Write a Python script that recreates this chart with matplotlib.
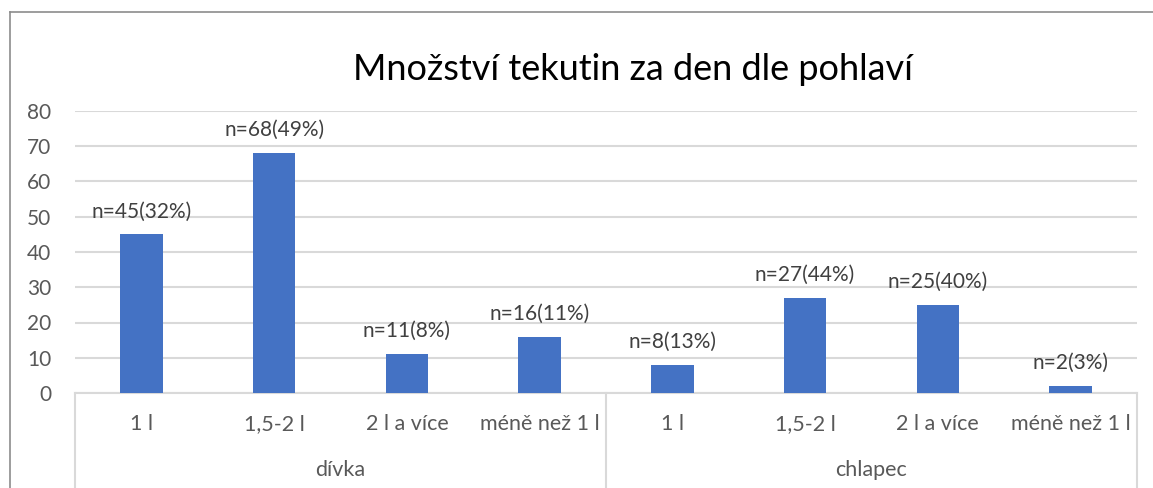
#!/usr/bin/env python3
"""Množství tekutin za den dle pohlaví - grouped category bar chart."""

import matplotlib

matplotlib.use("Agg")
import matplotlib.pyplot as plt
from matplotlib.lines import Line2D
from matplotlib.transforms import blended_transform_factory

GROUPS = ["dívka", "chlapec"]
CATEGORIES = ["1 l", "1,5-2 l", "2 l a více", "méně než 1 l"]
COUNTS_GIRLS = [45, 68, 11, 16]
COUNTS_BOYS = [8, 27, 25, 2]
PERCENT_GIRLS = [32, 49, 8, 11]
PERCENT_BOYS = [13, 44, 40, 3]
Y_TICKS = [0, 10, 20, 30, 40, 50, 60, 70, 80]

BAR_COLOR = "#4472C4"
GRID_COLOR = "#D9D9D9"
TEXT_COLOR = "#595959"
FONT = ["Lato", "DejaVu Sans"]

plt.rcParams["font.family"] = FONT

W, H = 1153, 488
fig = plt.figure(figsize=(W / 100, H / 100), dpi=100)

left, right, top, bottom = 75, 1137, 111, 393
ax = fig.add_axes([left / W, 1 - bottom / H, (right - left) / W, (bottom - top) / H])

values = COUNTS_GIRLS + COUNTS_BOYS
percents = PERCENT_GIRLS + PERCENT_BOYS
labels = CATEGORIES * len(GROUPS)
x = list(range(len(values)))

bars = ax.bar(x, values, width=0.32, color=BAR_COLOR, zorder=3)
for xi, v, p in zip(x, values, percents):
    ax.annotate(
        f"n={v}({p}%)",
        (xi, v),
        xytext=(0, 23),
        textcoords="offset pixels",
        ha="center",
        va="center",
        fontsize=15,
        color="#404040",
    )

ax.set_xlim(-0.5, len(values) - 0.5)
ax.set_ylim(0, 80)
ax.set_yticks(Y_TICKS)
ax.tick_params(axis="y", length=0, pad=17, labelsize=15, labelcolor=TEXT_COLOR)
ax.set_xticks([])
ax.grid(axis="y", color=GRID_COLOR, linewidth=1.5, zorder=0)
for side in ["top", "right", "left"]:
    ax.spines[side].set_visible(False)
ax.spines["bottom"].set_color(GRID_COLOR)
ax.spines["bottom"].set_linewidth(1.5)

# two-level category axis
trans = blended_transform_factory(ax.transData, ax.transAxes)
px = 1 / (bottom - top)
for xi, lab in zip(x, labels):
    ax.text(xi, -31 * px, lab, transform=trans, ha="center", va="center",
            fontsize=15.5, color=TEXT_COLOR)
n = len(CATEGORIES)
for gi, g in enumerate(GROUPS):
    ax.text(gi * n + (n - 1) / 2, -77 * px, g, transform=trans, ha="center",
            va="center", fontsize=15.5, color=TEXT_COLOR)
for sep in range(len(GROUPS) + 1):
    ax.plot([sep * n - 0.5] * 2, [0, -100 * px], transform=trans, color=GRID_COLOR,
            linewidth=1.5, clip_on=False)

fig.text(633 / W, 1 - 70 / H, "Množství tekutin za den dle pohlaví", ha="center",
         va="center", fontsize=26, color="#000000")

# chart border (top and left edges visible)
fig.add_artist(Line2D([10 / W, 1], [1 - 12 / H] * 2, color="#8C8C8C", linewidth=1.2))
fig.add_artist(Line2D([10 / W] * 2, [0, 1 - 12 / H], color="#8C8C8C", linewidth=1.2))

fig.savefig("out.png", dpi=100)
